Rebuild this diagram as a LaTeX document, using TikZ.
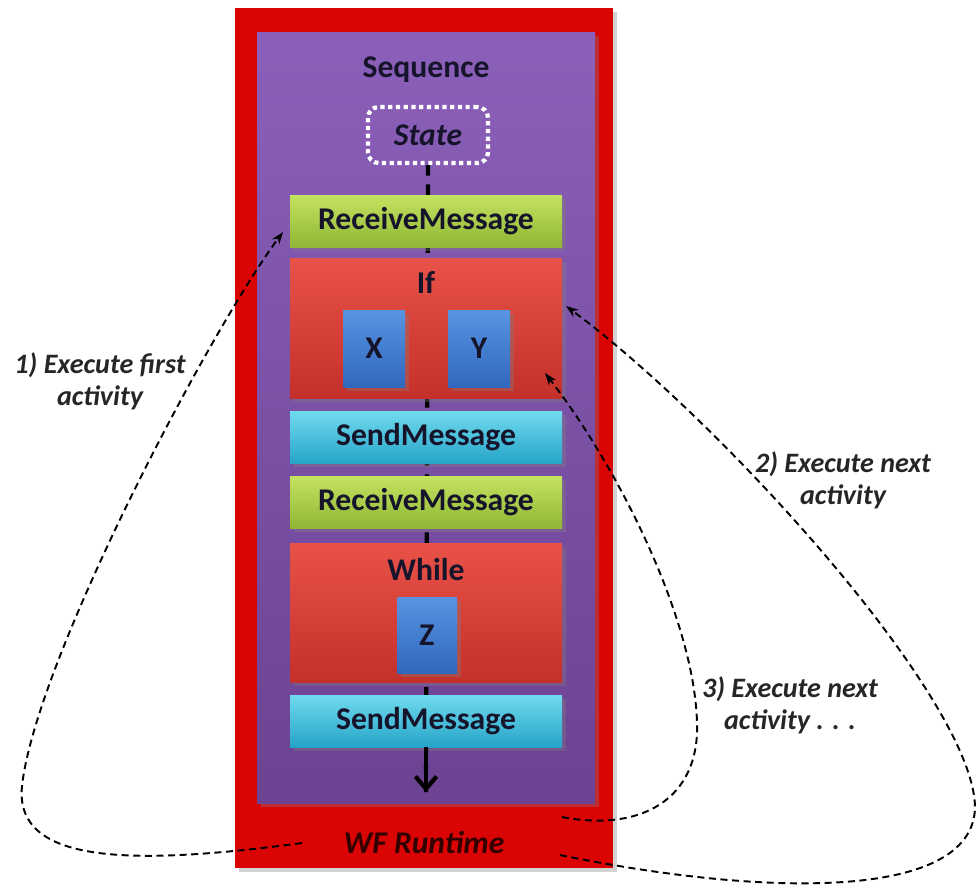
\documentclass[tikz,border=0pt]{standalone}
\usepackage{fontspec}
\setmainfont{Carlito}
\usepackage{tikz}
\usetikzlibrary{positioning,shadows,arrows.meta}
\definecolor{rtred}{RGB}{218,4,4}
\definecolor{seqtop}{RGB}{138,96,186}
\definecolor{seqbot}{RGB}{108,66,146}
\definecolor{rcvtop}{RGB}{196,226,96}
\definecolor{rcvbot}{RGB}{142,182,52}
\definecolor{sndtop}{RGB}{112,218,238}
\definecolor{sndbot}{RGB}{38,164,200}
\definecolor{ctltop}{RGB}{232,82,72}
\definecolor{ctlbot}{RGB}{196,48,42}
\definecolor{acttop}{RGB}{88,148,226}
\definecolor{actbot}{RGB}{48,104,190}
\definecolor{inktext}{RGB}{22,20,42}
\def\px{0.02cm}
\def\FSize{\fontsize{18}{20}\selectfont}
\def\LSize{\fontsize{16}{18}\selectfont}

\begin{document}
\begin{tikzpicture}[x=\px,y=-\px,
	shade/.style={drop shadow={opacity=0.35,shadow xshift=2pt,shadow yshift=-2pt}},
	msg/.style={shade,minimum width=272*\px,minimum height=52*\px,inner sep=0pt,
		font=\FSize\bfseries,text=inktext},
	recv/.style={msg,top color=rcvtop,bottom color=rcvbot},
	send/.style={msg,top color=sndtop,bottom color=sndbot},
	ctrl/.style={shade,minimum width=272*\px,inner sep=0pt,top color=ctltop,bottom color=ctlbot},
	act/.style={shade,inner sep=0pt,top color=acttop,bottom color=actbot,
		font=\FSize\bfseries,text=inktext},
	step label/.style={font=\LSize\bfseries\itshape,align=center,text=black!85},
	flow/.style={line width=1.1pt,dash pattern=on 4pt off 2.6pt,-{Stealth[length=7pt,width=5pt]}}]
	\useasboundingbox (0,0) rectangle (979,890);
	% runtime and sequence
	\node[fill=rtred,minimum width=378*\px,minimum height=860*\px,inner sep=0pt,shade] (runtime) at (424,438) {};
	\node[top color=seqtop,bottom color=seqbot,minimum width=338*\px,minimum height=771*\px,inner sep=0pt,shade] (seq) at (426,417.5) {};
	\node[font=\FSize\bfseries,text=inktext] (seqlbl) at (426,70) {Sequence};
	\node[draw=white,dotted,line width=2.4pt,rounded corners=6pt,minimum width=120*\px,minimum height=56*\px,
		font=\FSize\bfseries\itshape,text=inktext] (state) at (428,135) {State};
	\coordinate (spineend) at (426,792);
	% spine behind the activities
	\draw[dashed,line width=2.4pt,dash pattern=on 6pt off 5pt] (state.south) -- (spineend);
	% activities
	\node[recv] (recv1) at (426,221.5) {ReceiveMessage};
	\node[ctrl,minimum height=140*\px] (ifbox) at (426,328) {};
	\node[font=\FSize\bfseries,text=inktext] (iflbl) at (426,283) {If};
	\node[act,minimum width=62*\px,minimum height=77*\px] (xbox) at (374,348.5) {X};
	\node[act,minimum width=62*\px,minimum height=77*\px] (ybox) at (479,348.5) {Y};
	\node[send] (send1) at (426,437.5) {SendMessage};
	\node[recv] (recv2) at (426,502.5) {ReceiveMessage};
	\node[ctrl,minimum height=139*\px] (whilebox) at (426,612.5) {};
	\node[font=\FSize\bfseries,text=inktext] (whilelbl) at (426,570) {While};
	\node[act,minimum width=60*\px,minimum height=76*\px] (zbox) at (427,635) {Z};
	\node[send] (send2) at (426,721) {SendMessage};
	\draw[line width=2.4pt,-{Straight Barb[length=7pt,width=12pt]}] (send2.south) -- (spineend);
	\node[font=\fontsize{18}{20}\selectfont\bfseries\itshape,text=black!80!red] (rtlbl) at (424,842) {WF Runtime};
	% step labels
	\node[step label] (step1) at (100,381) {1) Execute first\\activity};
	\node[step label] (step2) at (843,480) {2) Execute next\\activity};
	\node[step label] (step3) at (790,705) {3) Execute next\\activity . . .};
	% dispatch paths
	\coordinate (from1) at (302,843);
	\coordinate (to1) at (283,232);
	\coordinate (from2) at (560,855);
	\coordinate (to2) at (566,306);
	\coordinate (from3) at (562,817);
	\coordinate (to3) at (545,373);
	\draw[flow] (from1) .. controls (130,866) and (14,864) .. (22,786)
		.. controls (36,660) and (210,330) .. (to1);
	\draw[flow] (from2) .. controls (760,896) and (972,902) .. (975,808)
		.. controls (975,700) and (720,420) .. (to2);
	\draw[flow] (from3) .. controls (640,832) and (700,800) .. (697,722)
		.. controls (694,620) and (620,470) .. (to3);
\end{tikzpicture}
\end{document}
